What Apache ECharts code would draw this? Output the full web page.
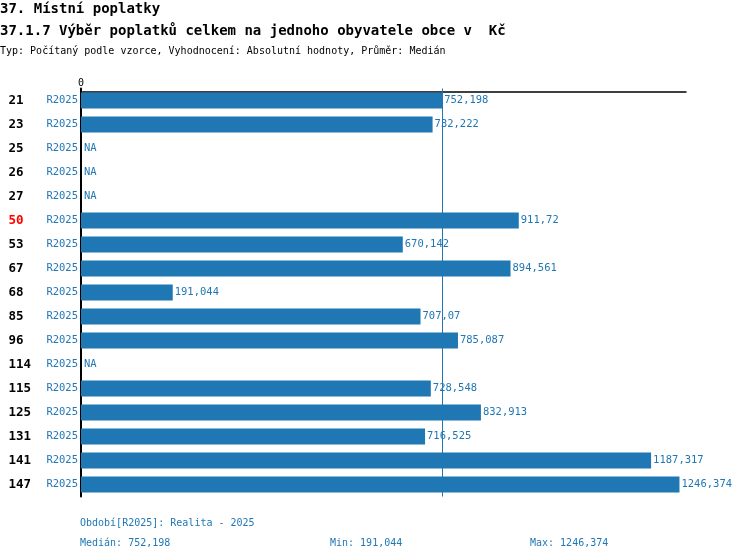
<!DOCTYPE html>
<html>
<head>
<meta charset="utf-8">
<script src="https://cdn.jsdelivr.net/npm/echarts@6/dist/echarts.min.js"></script>
<style>
  html, body { margin: 0; padding: 0; background: #fff; }
  #chart { width: 750px; height: 560px; }
</style>
</head>
<body>
<div id="chart"></div>
<script>
// data
const codes = ['21', '23', '25', '26', '27', '50', '53', '67', '68', '85', '96', '114', '115', '125', '131', '141', '147'];
const period = 'R2025';
const values = [752.198, 732.222, null, null, null, 911.72, 670.142, 894.561, 191.044, 707.07, 785.087, null, 728.548, 832.913, 716.525, 1187.317, 1246.374];
const highlightCode = '50';
const median = 752.198;
const minVal = 191.044;
const maxVal = 1246.374;

const blue = '#1f77b4';
const mono = '"DejaVu Sans Mono", "Liberation Mono", monospace';

const fmt = v => String(v).replace('.', ',');
const naValues = values.map(v => (v == null ? 0 : null));

function txt(text, left, top, size, bold, color) {
  return {
    text: text, left: left, top: top, padding: 0,
    textStyle: { fontFamily: mono, fontSize: size, fontWeight: bold ? 'bold' : 'normal', color: color }
  };
}

const chart = echarts.init(document.getElementById('chart'));

chart.setOption({
  animation: false,
  textStyle: { fontFamily: mono },
  title: [
    txt('37. Místní poplatky', 0, 2, 14, true, '#000'),
    txt('37.1.7 Výběr poplatků celkem na jednoho obyvatele obce v  Kč', 0, 24, 14, true, '#000'),
    txt('Typ: Počítaný podle vzorce, Vyhodnocení: Absolutní hodnoty, Průměr: Medián', 0, 46, 10, false, '#000'),
    txt('Období[' + period + ']: Realita - 2025', 80, 518, 10, false, blue),
    txt('Medián: ' + fmt(median), 80, 538, 10, false, blue),
    txt('Min: ' + fmt(minVal), 330, 538, 10, false, blue),
    txt('Max: ' + fmt(maxVal), 530, 538, 10, false, blue)
  ],
  grid: { left: 81, top: 88.5, width: 605, height: 408, containLabel: false },
  xAxis: {
    type: 'value',
    position: 'top',
    offset: -3.5,
    min: 0,
    max: 1260,
    splitLine: { show: false },
    axisTick: { show: false },
    axisLine: { show: true, lineStyle: { color: '#000', width: 1.5 } },
    axisLabel: {
      margin: 4,
      fontFamily: mono, fontSize: 10, color: '#000',
      formatter: v => (v === 0 ? '0' : '')
    }
  },
  yAxis: {
    type: 'category',
    inverse: true,
    data: codes,
    axisTick: { show: false },
    axisLine: { show: true, lineStyle: { color: '#000', width: 2 } },
    axisLabel: {
      margin: 3,
      formatter: c => (c === highlightCode ? '{cr|' + c + '}' : '{c|' + c + '}') + '{p|' + period + '}',
      rich: {
        c: { width: 38, align: 'left', fontFamily: mono, fontSize: 12.5, fontWeight: 'bold', color: '#000' },
        cr: { width: 38, align: 'left', fontFamily: mono, fontSize: 12.5, fontWeight: 'bold', color: '#ff0000' },
        p: { fontFamily: mono, fontSize: 10.5, color: blue }
      }
    }
  },
  series: [
    {
      type: 'bar',
      data: values,
      barWidth: 16,
      itemStyle: { color: blue },
      label: {
        show: true, position: 'right', distance: 2,
        fontFamily: mono, fontSize: 10.5, color: blue,
        formatter: p => fmt(p.value)
      },
      markLine: {
        silent: true,
        symbol: 'none',
        label: { show: false },
        lineStyle: { color: blue, width: 1, type: 'solid' },
        data: [{ xAxis: median }]
      }
    },
    {
      type: 'bar',
      data: naValues,
      barWidth: 16,
      barGap: '-100%',
      itemStyle: { color: blue },
      label: {
        show: true, position: 'right', distance: 3,
        fontFamily: mono, fontSize: 10.5, color: blue,
        formatter: 'NA'
      }
    }
  ]
});
</script>
</body>
</html>
